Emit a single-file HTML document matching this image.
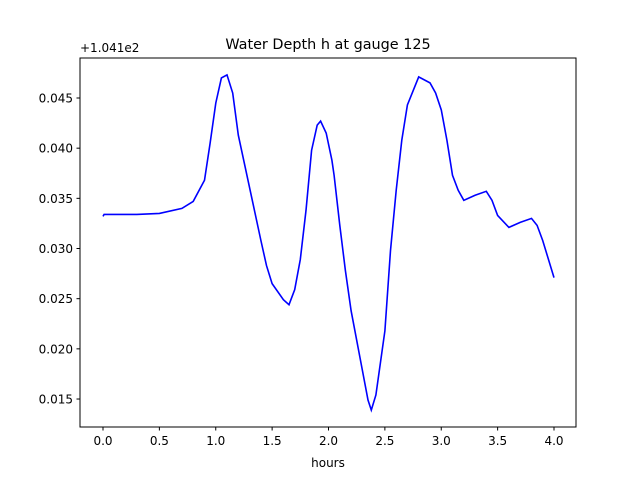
<!DOCTYPE html>
<html><head><meta charset="utf-8"><style>
body{margin:0;background:#fff;}
svg text{font-family:"DejaVu Sans","Liberation Sans",sans-serif;font-size:12px;fill:#000;}
</style></head><body>
<svg id="chart" width="640" height="480">
<rect width="640" height="480" fill="#fff"/>
<text x="328" y="49" text-anchor="middle" style="font-size:14.4px">Water Depth h at gauge 125</text>
<text x="80" y="52">+1.041e2</text>
<text x="328" y="467" text-anchor="middle">hours</text>
<g id="xt"></g>
<g id="yt"></g>
<path id="line" fill="none" stroke="#0000ff" stroke-width="1.6"/>
<rect x="80" y="58" width="496" height="369" fill="none" stroke="#000" stroke-width="1"/>
</svg>
<script>
const hours=[0,0.01,0.3,0.5,0.7,0.8,0.9,0.95,1.0,1.05,1.1,1.15,1.2,1.4,1.45,1.5,1.6,1.65,1.7,1.75,1.8,1.85,1.9,1.93,1.98,2.03,2.05,2.1,2.15,2.2,2.3,2.35,2.38,2.42,2.5,2.55,2.6,2.65,2.7,2.8,2.9,2.95,3.0,3.05,3.1,3.15,3.2,3.3,3.4,3.45,3.5,3.6,3.7,3.8,3.85,3.9,4.0];
const depth=[0.0332,0.0334,0.0334,0.0335,0.0340,0.0347,0.0368,0.0405,0.0445,0.0470,0.0473,0.0455,0.0413,0.0308,0.0283,0.0265,0.0249,0.0244,0.0259,0.0289,0.0338,0.0398,0.0423,0.0427,0.0415,0.0388,0.0373,0.0323,0.0278,0.0238,0.0179,0.0149,0.0139,0.0154,0.0218,0.0298,0.0358,0.0408,0.0443,0.0471,0.0465,0.0455,0.0438,0.0408,0.0373,0.0358,0.0348,0.0353,0.0357,0.0348,0.0333,0.0321,0.0326,0.0330,0.0323,0.0308,0.0271];
const xTicks=[0,0.5,1,1.5,2,2.5,3,3.5,4];
const yTicks=[0.015,0.020,0.025,0.030,0.035,0.040,0.045];
const X=h=>103+h*112.75;
const Y=v=>98+(0.045-v)/0.005*50.17;
const ns="http://www.w3.org/2000/svg";
const xt=document.getElementById('xt'),yt=document.getElementById('yt');
xTicks.forEach(t=>{
 const l=document.createElementNS(ns,'line');
 l.setAttribute('x1',X(t));l.setAttribute('x2',X(t));l.setAttribute('y1',427);l.setAttribute('y2',430.5);l.setAttribute('stroke','#000');
 
 
 xt.appendChild(l);
 const tx=document.createElementNS(ns,'text');
 tx.setAttribute('x',X(t));tx.setAttribute('y',445);tx.setAttribute('text-anchor','middle');tx.textContent=t.toFixed(1);
 
 
 xt.appendChild(tx);
});
yTicks.forEach(t=>{
 const l=document.createElementNS(ns,'line');
 l.setAttribute('x1',76.5);l.setAttribute('x2',80);l.setAttribute('y1',Y(t));l.setAttribute('y2',Y(t));l.setAttribute('stroke','#000');
 
 
 yt.appendChild(l);
 const tx=document.createElementNS(ns,'text');
 tx.setAttribute('x',73);tx.setAttribute('y',Y(t)+4.5);tx.setAttribute('text-anchor','end');tx.textContent=t.toFixed(3);
 
 
 yt.appendChild(tx);
});
document.getElementById('line').setAttribute('d',hours.map((h,i)=>(i?'L':'M')+X(h).toFixed(1)+','+Y(depth[i]).toFixed(1)).join(''));
</script>
</body></html>
